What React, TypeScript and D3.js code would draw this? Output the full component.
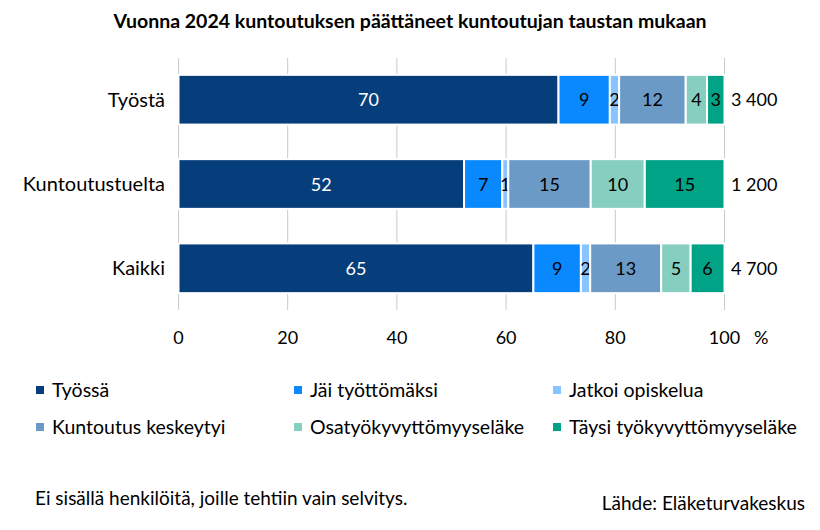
import React from "react";
import * as d3 from "d3";

const categories = ["Työstä", "Kuntoutustuelta", "Kaikki"];
const seriesNames = [
  "Työssä",
  "Jäi työttömäksi",
  "Jatkoi opiskelua",
  "Kuntoutus keskeytyi",
  "Osatyökyvyttömyyseläke",
  "Täysi työkyvyttömyyseläke",
];
const colors = ["#063e7b", "#0a89ff", "#88c4ff", "#6c9ac6", "#86cfc0", "#00a385"];
const labelColors = ["#ffffff", "#000000", "#000000", "#000000", "#000000", "#000000"];
// values per category (rows) for each series (columns), percent
const valuesTyosta = [69.6, 9.4, 1.7, 12.2, 3.9, 3.2];
const valuesKuntoutustuelta = [52.3, 7.0, 1.1, 15.1, 9.9, 14.6];
const valuesKaikki = [65.0, 8.7, 1.7, 13.0, 5.4, 6.2];
const shownTyosta = ["70", "9", "2", "12", "4", "3"];
const shownKuntoutustuelta = ["52", "7", "1", "15", "10", "15"];
const shownKaikki = ["65", "9", "2", "13", "5", "6"];
const totals = ["3 400", "1 200", "4 700"];
const xTicks = [0, 20, 40, 60, 80, 100];

const title = "Vuonna 2024 kuntoutuksen päättäneet kuntoutujan taustan mukaan";
const note = "Ei sisällä henkilöitä, joille tehtiin vain selvitys.";
const source = "Lähde: Eläketurvakeskus";

const FONT = "Lato, 'Open Sans', sans-serif";

export default function App() {
  const W = 820;
  const H = 530;
  const x = d3.scaleLinear().domain([0, 100]).range([178.5, 724.5]);
  const y = d3.scaleBand().domain(categories).range([58, 310]).paddingInner(0.41).paddingOuter(0.2);
  const rows = [valuesTyosta, valuesKuntoutustuelta, valuesKaikki];
  const shown = [shownTyosta, shownKuntoutustuelta, shownKaikki];
  const stackData = categories.map((c, i) => {
    const o: any = { cat: c };
    seriesNames.forEach((s, j) => (o[s] = rows[i][j]));
    return o;
  });
  const stacked = d3.stack<any>().keys(seriesNames)(stackData);
  const bw = y.bandwidth();

  const legendCols = [40, 298, 557];
  const legendRows = [390, 427];

  return (
    <svg width={W} height={H} style={{ display: "block", position: "absolute", left: 0, top: 0 }} fontFamily={FONT}>
      <rect width={W} height={H} fill="#ffffff" />
      <text x={410} y={28} textAnchor="middle" fontSize={19.5} fontWeight="bold" fill="#000">
        {title}
      </text>
      {xTicks.map((t) => (
        <line key={t} x1={x(t)} x2={x(t)} y1={58} y2={310} stroke="#c9c9c9" strokeWidth={1} />
      ))}
      {stacked.map((layer, j) => (
        <g key={layer.key}>
          {layer.map((d, i) => {
            const x0 = x(d[0]);
            const x1 = x(d[1]);
            const yy = y(categories[i])!;
            return (
              <g key={i}>
                <rect x={x0} y={yy} width={x1 - x0} height={bw} fill={colors[j]} stroke="#ffffff" strokeWidth={2} />
                <text
                  x={(x0 + x1) / 2}
                  y={yy + bw / 2 + 6.5}
                  textAnchor="middle"
                  fontSize={18}
                  fill={labelColors[j]}
                >
                  {shown[i][j]}
                </text>
              </g>
            );
          })}
        </g>
      ))}
      {categories.map((c, i) => (
        <g key={c}>
          <text x={165} y={y(c)! + bw / 2 + 7} textAnchor="end" fontSize={20} fill="#000">
            {c}
          </text>
          <text x={731} y={y(c)! + bw / 2 + 6.5} textAnchor="start" fontSize={18} fill="#000">
            {totals[i]}
          </text>
        </g>
      ))}
      {xTicks.map((t) => (
        <text key={t} x={x(t)} y={344} textAnchor="middle" fontSize={18} fill="#000">
          {t}
        </text>
      ))}
      <text x={754} y={344} textAnchor="start" fontSize={18} fill="#000">
        %
      </text>
      {seriesNames.map((s, j) => {
        const cx = legendCols[j % 3];
        const cy = legendRows[Math.floor(j / 3)];
        return (
          <g key={s}>
            <rect x={cx - 4} y={cy - 4} width={8} height={8} fill={colors[j]} />
            <text x={cx + 12} y={cy + 7} fontSize={19.5} fill="#000">
              {s}
            </text>
          </g>
        );
      })}
      <text x={35} y={505} fontSize={19} fill="#000">
        {note}
      </text>
      <text x={805} y={510} textAnchor="end" fontSize={19} fill="#000">
        {source}
      </text>
    </svg>
  );
}
